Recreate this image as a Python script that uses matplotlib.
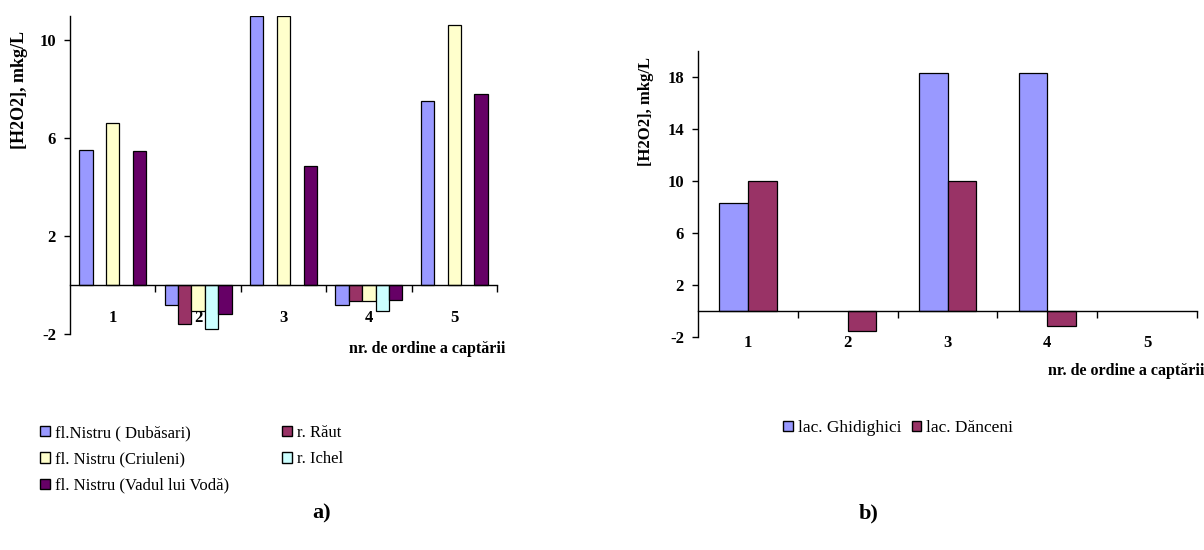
import numpy as np
import matplotlib
matplotlib.use("Agg")
import matplotlib.pyplot as plt
from matplotlib.patches import Patch

plt.rcParams['font.family'] = ['Liberation Serif', 'DejaVu Serif']

# ---- data ----
categories = ['1', '2', '3', '4', '5']

# chart a) rivers
a_labels = ['fl.Nistru ( Dubăsari)', 'fl. Nistru (Criuleni)', 'fl. Nistru (Vadul lui Vodă)',
            'r. Răut', 'r. Ichel']
a_dubasari = [5.5, -0.8, 11.0, -0.8, 7.5]
a_raut = [np.nan, -1.6, np.nan, -0.65, np.nan]
a_criuleni = [6.6, -1.05, 11.0, -0.65, 10.6]
a_ichel = [np.nan, -1.8, np.nan, -1.05, np.nan]
a_vadul = [5.45, -1.2, 4.85, -0.6, 7.8]

# chart b) lakes
b_labels = ['lac. Ghidighici', 'lac. Dănceni']
b_ghidighici = [8.3, np.nan, 18.3, 18.3, np.nan]
b_danceni = [10.0, -1.55, 10.0, -1.15, np.nan]

c_blue = '#9999FF'
c_red = '#993366'
c_yellow = '#FFFFCC'
c_cyan = '#CCFFFF'
c_purple = '#660066'

W, H = 1204, 550
fig = plt.figure(figsize=(W / 100, H / 100), dpi=100)


def px_axes(x0, x1, y_top, y_bot):
    return fig.add_axes([x0 / W, 1 - y_bot / H, (x1 - x0) / W, (y_bot - y_top) / H])


def style_axes(ax, ylim, yticks, xpad):
    ax.set_xlim(0.5, 5.5)
    ax.set_ylim(*ylim)
    ax.set_axisbelow(True)
    for s in ['top', 'right']:
        ax.spines[s].set_visible(False)
    ax.spines['bottom'].set_position(('data', 0))
    ax.spines['left'].set_linewidth(1.0)
    ax.spines['bottom'].set_linewidth(1.0)
    ax.set_yticks(yticks)
    ax.set_yticklabels([str(t) for t in yticks], fontsize=12, fontweight='bold')
    ax.tick_params(axis='y', direction='out', length=4, width=1, pad=6)
    x = np.arange(1, 6)
    ax.set_xticks(x)
    ax.set_xticklabels(categories, fontsize=12, fontweight='bold')
    ax.set_xticks(x + 0.5, minor=True)
    ax.tick_params(axis='x', which='major', length=0, pad=xpad)
    ax.tick_params(axis='x', which='minor', direction='out', length=5, width=1)


# ---- chart a ----
ax1 = px_axes(70, 497, 15.5, 334)
x = np.arange(1, 6)
wa = 0.157
series_a = [(a_dubasari, c_blue), (a_raut, c_red), (a_criuleni, c_yellow),
            (a_ichel, c_cyan), (a_vadul, c_purple)]
for i, (vals, col) in enumerate(series_a):
    ax1.bar(x + (i - 2) * wa, vals, width=wa, color=col, edgecolor='black', linewidth=0.9)
style_axes(ax1, (-2, 11), [-2, 2, 6, 10], 18)
fig.text(20 / W, 1 - 90 / H, '[H2O2], mkg/L', rotation=90, fontsize=13, fontweight='bold',
         ha='center', va='center')
fig.text(505 / W, 1 - 349 / H, 'nr. de ordine a captării', fontsize=11.5, fontweight='bold',
         ha='right', va='center')

handles_a = [Patch(facecolor=c_blue, edgecolor='black'),
             Patch(facecolor=c_yellow, edgecolor='black'),
             Patch(facecolor=c_purple, edgecolor='black'),
             Patch(facecolor=c_red, edgecolor='black'),
             Patch(facecolor=c_cyan, edgecolor='black')]
labels_a = [a_labels[0], a_labels[1], a_labels[2], a_labels[3], a_labels[4]]
fig.legend(handles_a, labels_a, loc='upper left', bbox_to_anchor=(40 / W, 1 - 425 / H),
           ncol=2, frameon=False, fontsize=12, handlelength=0.6, handleheight=0.6,
           handletextpad=0.3, labelspacing=0.62, columnspacing=3.2, borderpad=0, borderaxespad=0)
fig.text(322 / W, 1 - 513 / H, 'a)', fontsize=16, fontweight='bold', ha='center', va='center')

# ---- chart b ----
ax2 = px_axes(698, 1197, 51, 337)
wb = 0.287
ax2.bar(x - wb / 2, b_ghidighici, width=wb, color=c_blue, edgecolor='black', linewidth=0.9)
ax2.bar(x + wb / 2, b_danceni, width=wb, color=c_red, edgecolor='black', linewidth=0.9)
style_axes(ax2, (-2, 20), [-2, 2, 6, 10, 14, 18], 17)
fig.text(646 / W, 1 - 111 / H, '[H2O2], mkg/L', rotation=90, fontsize=12, fontweight='bold',
         ha='center', va='center')
fig.text(1204 / W, 1 - 371 / H, 'nr. de ordine a captării', fontsize=11.5, fontweight='bold',
         ha='right', va='center')

handles_b = [Patch(facecolor=c_blue, edgecolor='black'),
             Patch(facecolor=c_red, edgecolor='black')]
fig.legend(handles_b, b_labels, loc='upper left', bbox_to_anchor=(783 / W, 1 - 420 / H),
           ncol=2, frameon=False, fontsize=12.5, handlelength=0.55, handleheight=0.55,
           handletextpad=0.3, columnspacing=0.6, borderpad=0, borderaxespad=0)
fig.text(869 / W, 1 - 513 / H, 'b)', fontsize=16, fontweight='bold', ha='center', va='center')

fig.savefig('out.png', dpi=100)
